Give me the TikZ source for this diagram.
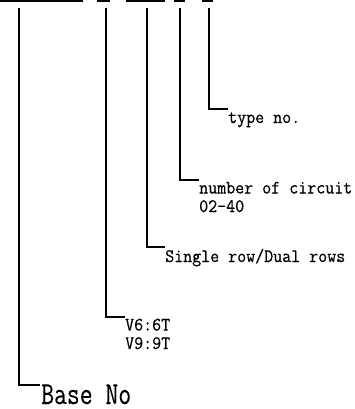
\documentclass[tikz,border=0pt]{standalone}
\usepackage{fontspec}
\newfontfamily\lblfont[FakeStretch=0.92,FakeBold=0.5]{Latin Modern Mono}
\newfontfamily\bigfont[FakeStretch=0.78,FakeBold=0.2]{Latin Modern Mono}
\begin{document}
\begin{tikzpicture}[x=1pt,y=-1pt,
  lead/.style={line width=1.5pt, black},
  lbl/.style={anchor=base west, inner sep=0pt, align=left,
    font=\lblfont\fontsize{19}{18.5}\selectfont},
  biglbl/.style={anchor=base west, inner sep=0pt,
    font=\bigfont\fontsize{32}{32}\selectfont}]
\useasboundingbox (0,0) rectangle (355,409);
% top underline segments
\coordinate (u1a) at (0,1);   \coordinate (u1b) at (83,1);
\coordinate (u2a) at (97,1);  \coordinate (u2b) at (110,1);
\coordinate (u3a) at (126,1); \coordinate (u3b) at (165,1);
\coordinate (u4a) at (174,1); \coordinate (u4b) at (185,1);
\coordinate (u5a) at (202,1); \coordinate (u5b) at (213,1);
\draw[lead] (u1a) -- (u1b);
\draw[lead] (u2a) -- (u2b);
\draw[lead] (u3a) -- (u3b);
\draw[lead] (u4a) -- (u4b);
\draw[lead] (u5a) -- (u5b);
% leader start points
\coordinate (s1) at (19,8);
\coordinate (s2) at (106,8);
\coordinate (s3) at (147,8);
\coordinate (s4) at (180,8);
\coordinate (s5) at (209,8);
% labels
\node[biglbl] (base) at (41,404) {Base No};
\node[lbl] (v) at (125,349) {V6:6T\\V9:9T};
\node[lbl] (row) at (165,262) {Single row/Dual rows};
\node[lbl] (circ) at (199,212) {number of circuit\\02-40};
\node[lbl] (type) at (228,123) {type no.};
% leaders
\draw[lead] (s1) |- (40,385);
\draw[lead] (s2) |- (125,317);
\draw[lead] (s3) |- (165,247);
\draw[lead] (s4) |- (199,180);
\draw[lead] (s5) |- (228,109);
\end{tikzpicture}
\end{document}
